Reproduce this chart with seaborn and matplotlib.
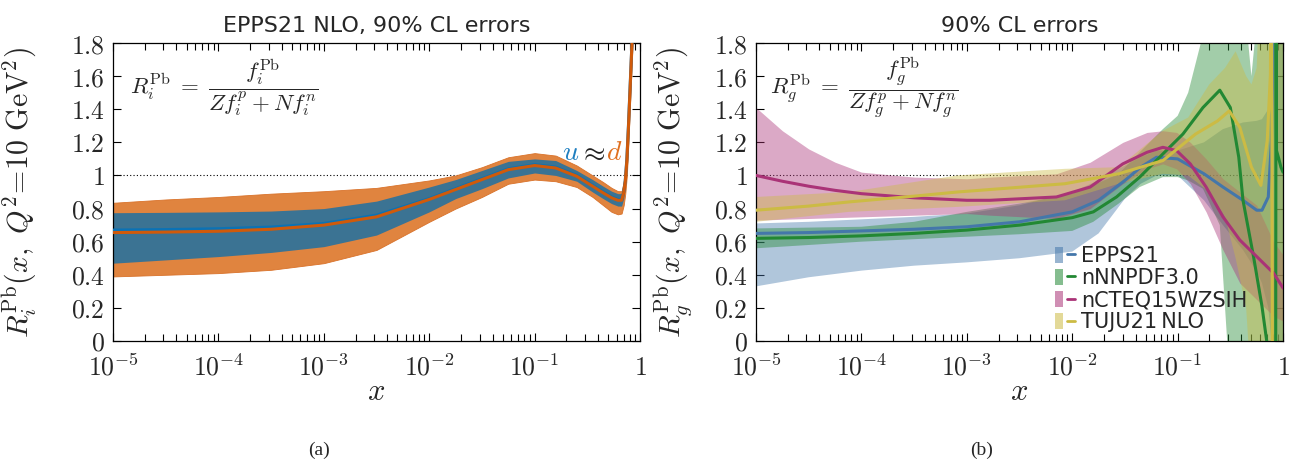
import numpy as np
import pandas as pd
import matplotlib
matplotlib.use("Agg")
import matplotlib.pyplot as plt
import seaborn as sns
from matplotlib.patches import Patch
from matplotlib.lines import Line2D
from matplotlib.legend_handler import HandlerTuple
from matplotlib.ticker import FixedLocator, LogLocator, NullFormatter

# ---- left panel: EPPS21 u and d valence ratios (log10 x) ----
ud_logx = [-5, -4.5, -4, -3.5, -3, -2.5, -2, -1.75, -1.5, -1.25, -1.0, -0.8, -0.6, -0.45,
           -0.35, -0.27, -0.21, -0.175, -0.155, -0.14, -0.125, -0.11, -0.09, -0.07, -0.05]
u_cen = [0.67, 0.673, 0.678, 0.688, 0.71, 0.76, 0.86, 0.92, 0.98, 1.04, 1.065, 1.05, 1.0, 0.94,
         0.90, 0.87, 0.855, 0.855, 0.9, 0.97, 1.1, 1.3, 1.6, 1.9, 2.3]
u_lo = [0.47, 0.49, 0.51, 0.535, 0.57, 0.64, 0.78, 0.86, 0.92, 0.985, 1.015, 1.0, 0.965, 0.90,
        0.86, 0.83, 0.815, 0.815, 0.86, 0.93, 1.05, 1.25, 1.55, 1.85, 2.25]
u_hi = [0.775, 0.777, 0.78, 0.785, 0.80, 0.845, 0.93, 0.975, 1.03, 1.085, 1.10, 1.09, 1.03, 0.975,
        0.935, 0.905, 0.89, 0.89, 0.94, 1.01, 1.15, 1.35, 1.65, 1.95, 2.35]
d_cen = [0.655, 0.658, 0.663, 0.675, 0.70, 0.75, 0.855, 0.915, 0.975, 1.035, 1.06, 1.045, 0.995,
         0.935, 0.895, 0.865, 0.85, 0.85, 0.895, 0.965, 1.09, 1.29, 1.59, 1.9, 2.3]
d_lo = [0.39, 0.40, 0.41, 0.43, 0.47, 0.55, 0.72, 0.80, 0.87, 0.95, 0.975, 0.965, 0.93, 0.87,
        0.82, 0.78, 0.765, 0.77, 0.82, 0.89, 1.0, 1.2, 1.5, 1.8, 2.2]
d_hi = [0.835, 0.855, 0.87, 0.89, 0.905, 0.925, 0.97, 1.0, 1.05, 1.11, 1.135, 1.12, 1.06, 1.0,
        0.96, 0.925, 0.905, 0.905, 0.96, 1.04, 1.18, 1.4, 1.7, 2.0, 2.4]

# ---- right panel: gluon ratios ----
ep_logx = [-5, -4.5, -4, -3.5, -3, -2.5, -2, -1.75, -1.5, -1.35, -1.2, -1.0, -0.75, -0.57,
           -0.38, -0.25, -0.2, -0.14, -0.11, -0.09, -0.07, -0.03, 0]
ep_cen = [0.65, 0.655, 0.665, 0.675, 0.69, 0.72, 0.78, 0.85, 0.97, 1.05, 1.11, 1.10, 1.01, 0.93,
          0.85, 0.79, 0.79, 0.87, 1.21, 1.9, 2.5, 2.5, 2.5]
ep_lo = [0.33, 0.385, 0.425, 0.455, 0.475, 0.50, 0.54, 0.65, 0.86, 0.95, 1.0, 1.0, 0.85, 0.70,
         0.55, 0.42, 0.35, 0.2, 0.0, -0.3, -0.3, -0.3, -0.3]
ep_hi = [0.71, 0.72, 0.735, 0.75, 0.77, 0.82, 0.90, 0.97, 1.06, 1.11, 1.15, 1.15, 1.2, 1.28,
         1.32, 1.33, 1.34, 1.4, 1.6, 2.5, 2.5, 2.5, 2.5]

nn_logx = [-5, -4.5, -4, -3.5, -3, -2.5, -2, -1.8, -1.58, -1.36, -1.14, -0.95, -0.76, -0.6,
           -0.5, -0.42, -0.38, -0.28, -0.2, -0.155, -0.12, -0.07, -0.066, -0.062, -0.04, -0.02, 0]
nn_cen = [0.62, 0.625, 0.635, 0.65, 0.67, 0.70, 0.745, 0.78, 0.87, 0.99, 1.13, 1.25, 1.41, 1.515,
          1.41, 1.11, 0.85, 0.51, 0.21, 0.0, -0.3, -0.3, 2.5, 1.15, 1.1, 1.05, 1.02]
nn_band_logx = [-5, -4.5, -4, -3.5, -3, -2.5, -2, -1.8, -1.56, -1.36, -1.14, -1.0, -0.9, -0.76,
                -0.6, -0.55, -0.5, -0.38, -0.33, -0.3, -0.27, -0.24, -0.1, 0]
nn_lo = [0.56, 0.58, 0.60, 0.615, 0.63, 0.645, 0.665, 0.72, 0.83, 0.93, 0.99, 0.99, 0.97, 0.92,
         0.70, 0.2, -0.3, -0.3, -0.3, -0.3, -0.3, -0.3, -0.3, -0.3]
nn_hi = [0.68, 0.685, 0.69, 0.72, 0.78, 0.83, 0.89, 0.94, 1.01, 1.14, 1.28, 1.36, 1.5, 1.85,
         2.5, 2.5, 2.5, 2.5, 1.8, 1.6, 1.8, 2.5, 2.5, 2.5]

mc_logx = [-5, -4.75, -4.5, -4.25, -4, -3.5, -3, -2.78, -2.15, -1.83, -1.52, -1.29, -1.14, -1.01,
           -0.88, -0.73, -0.57, -0.41, -0.25, -0.09, 0]
mc_cen = [1.0, 0.965, 0.935, 0.91, 0.89, 0.865, 0.85, 0.85, 0.87, 0.93, 1.07, 1.14, 1.17, 1.15,
          1.07, 0.93, 0.75, 0.61, 0.51, 0.41, 0.32]
mc_lo = [0.73, 0.735, 0.74, 0.745, 0.75, 0.76, 0.77, 0.76, 0.74, 0.80, 0.95, 1.04, 1.07, 1.04,
         0.95, 0.78, 0.55, 0.35, 0.25, 0.15, 0.12]
mc_hi = [1.41, 1.27, 1.16, 1.08, 1.02, 0.99, 0.98, 0.99, 1.01, 1.08, 1.20, 1.26, 1.27, 1.26,
         1.2, 1.1, 0.98, 0.9, 0.82, 0.6, 0.52]

tj_logx = [-5, -4.5, -4.12, -3.5, -3.09, -2.78, -2.07, -1.56, -1.14, -0.83, -0.62, -0.51, -0.41,
           -0.3, -0.21, -0.15, -0.12, -0.11, -0.1, 0]
tj_cen = [0.79, 0.815, 0.84, 0.875, 0.90, 0.915, 0.95, 1.01, 1.09, 1.25, 1.33, 1.39, 1.29,
          1.05, 0.94, 1.21, 1.61, 2.5, -0.5, -0.5]
tj_band_logx = [-5, -4.12, -3.09, -2.07, -1.56, -1.14, -0.9, -0.7, -0.55, -0.45, -0.35, -0.3,
                -0.25, -0.2, -0.15, 0]
tj_lo = [0.72, 0.78, 0.81, 0.85, 0.95, 1.01, 1.0, 0.9, 0.75, 0.5, 0.2, -0.3, -0.3, -0.3, -0.3, -0.3]
tj_hi = [0.87, 0.90, 1.0, 1.04, 1.05, 1.27, 1.35, 1.55, 1.65, 1.75, 1.6, 1.55, 1.65, 2.5, 2.5, 2.5]

sets = ["EPPS21", "nNNPDF3.0", "nCTEQ15WZSIH", "TUJU21\u2009NLO"]
set_colors = ["#4477AA", "#228833", "#AA3377", "#CCBB44"]

sns.set_theme(style="ticks")
plt.rcParams["font.family"] = ["DejaVu Sans"]
plt.rcParams["mathtext.fontset"] = "cm"

fig = plt.figure(figsize=(12.93, 4.63), dpi=100)
ax1 = fig.add_axes([0.0874, 0.2635, 0.4076, 0.6436])
ax2 = fig.add_axes([0.5847, 0.2635, 0.4076, 0.6436])


def x_of(lx):
    return np.power(10.0, np.asarray(lx, dtype=float))


def style_axis(ax, ylabel, label_x):
    ax.set_xscale("log")
    ax.set_xlim(1e-5, 1)
    ax.set_ylim(0, 1.8)
    ax.xaxis.set_major_locator(FixedLocator([1e-5, 1e-4, 1e-3, 1e-2, 1e-1, 1]))
    ax.set_xticklabels([r"$10^{-5}$", r"$10^{-4}$", r"$10^{-3}$", r"$10^{-2}$", r"$10^{-1}$", r"$1$"])
    ax.xaxis.set_minor_locator(LogLocator(base=10, subs=np.arange(2, 10), numticks=20))
    ax.xaxis.set_minor_formatter(NullFormatter())
    yt = [0, 0.2, 0.4, 0.6, 0.8, 1.0, 1.2, 1.4, 1.6, 1.8]
    ax.set_yticks(yt)
    ax.set_yticklabels([r"$0$", r"$0.2$", r"$0.4$", r"$0.6$", r"$0.8$", r"$1$",
                        r"$1.2$", r"$1.4$", r"$1.6$", r"$1.8$"])
    ax.tick_params(which="both", direction="in", top=True, right=True, color="black",
                   width=0.8, labelsize=18.5, pad=6)
    ax.tick_params(axis="x", which="major", pad=10)
    ax.tick_params(which="major", length=6)
    ax.tick_params(which="minor", length=5)
    for s in ax.spines.values():
        s.set_color("black")
        s.set_linewidth(0.9)
    ax.axhline(1.0, color="black", ls=(0, (1, 2)), lw=0.8, zorder=0.5)
    ax.set_xlabel(r"$x$", fontsize=22, labelpad=-3)
    ax.set_ylabel(ylabel, fontsize=21.5)
    ax.yaxis.set_label_coords(label_x, 0.5)


# left panel
ax1.fill_between(x_of(ud_logx), d_lo, d_hi, color="#e0843f", lw=0.6, edgecolor="#d9722a", zorder=1)
ax1.fill_between(x_of(ud_logx), u_lo, u_hi, color="#3b7393", lw=0, zorder=2)
df_ud = pd.DataFrame({"x": x_of(ud_logx), "u": u_cen, "d": d_cen})
sns.lineplot(data=df_ud, x="x", y="u", ax=ax1, color="#0b72b5", lw=2.2, zorder=3)
sns.lineplot(data=df_ud, x="x", y="d", ax=ax1, color="#d05a0a", lw=2.2, zorder=4)
style_axis(ax1, r"$R_i^{\rm Pb}(x,\ Q^2\!=\!10\ {\rm GeV}^2)$", -0.14)
ax1.set_title("EPPS21 NLO, 90% CL errors", fontsize=16, pad=8)
ax1.text(0.032, 0.85, r"$R_i^{\rm Pb}\; = \;\dfrac{f_i^{\rm Pb}}{Z f_i^p + N f_i^n}$",
         transform=ax1.transAxes, fontsize=16.5, ha="left", va="center")
ax1.text(0.868, 0.634, r"$u$", color="#1f7fc0", fontsize=20, transform=ax1.transAxes, ha="center", va="center")
ax1.text(0.909, 0.634, r"$\approx$", color="#222222", fontsize=20, transform=ax1.transAxes, ha="center", va="center")
ax1.text(0.951, 0.634, r"$d$", color="#e07020", fontsize=20, transform=ax1.transAxes, ha="center", va="center")

# right panel
bands = [(ep_logx, ep_lo, ep_hi), (nn_band_logx, nn_lo, nn_hi),
         (mc_logx, mc_lo, mc_hi), (tj_band_logx, tj_lo, tj_hi)]
lines = [(ep_logx, ep_cen), (nn_logx, nn_cen), (mc_logx, mc_cen), (tj_logx, tj_cen)]
for (lx, lo, hi), c in zip(bands, set_colors):
    ax2.fill_between(x_of(lx), lo, hi, color=c, alpha=0.42, lw=0, zorder=1)
for (lx, cen), c, name in zip(lines, set_colors, sets):
    df = pd.DataFrame({"x": x_of(lx), "R": cen})
    sns.lineplot(data=df, x="x", y="R", ax=ax2, color=c, lw=2.2, zorder=3, sort=False)
style_axis(ax2, r"$R_g^{\rm Pb}(x,\ Q^2\!=\!10\ {\rm GeV}^2)$", -0.115)
ax2.set_title("90% CL errors", fontsize=16, pad=8)
ax2.text(0.027, 0.85, r"$R_g^{\rm Pb}\; = \;\dfrac{f_g^{\rm Pb}}{Z f_g^p + N f_g^n}$",
         transform=ax2.transAxes, fontsize=16.5, ha="left", va="center")

handles = [(Patch(facecolor=c, alpha=0.55, edgecolor="none"), Line2D([], [], color=c, lw=2))
           for c in set_colors]
ax2.legend(handles, sets, handler_map={tuple: HandlerTuple(ndivide=None)},
           loc="lower left", bbox_to_anchor=(0.56, 0.015), frameon=False, fontsize=15,
           handlelength=0.95, handleheight=0.85, handletextpad=0.3, labelspacing=0.1,
           borderpad=0.2, borderaxespad=0)

fig.text(319 / 1293, 1 - 450 / 463, "(a)", ha="center", va="center", family="Liberation Serif", fontsize=14)
fig.text(982 / 1293, 1 - 450 / 463, "(b)", ha="center", va="center", family="Liberation Serif", fontsize=14)

fig.savefig("out.png", dpi=100)
